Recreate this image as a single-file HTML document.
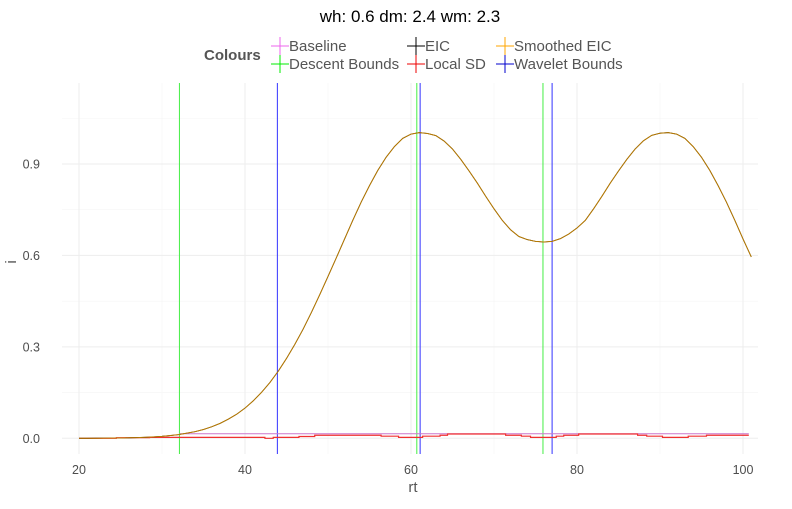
<!DOCTYPE html>
<html><head><meta charset="utf-8"><style>
body{margin:0;background:#fff}
svg{font-family:"Liberation Sans",sans-serif}
</style></head><body>
<svg id="chart" width="792" height="504" xmlns="http://www.w3.org/2000/svg">
<text x="410" y="22" font-size="17" text-anchor="middle" fill="#000">wh: 0.6 dm: 2.4 wm: 2.3</text>
<g id="legend" font-size="15" fill="#555">
<text x="204" y="60" font-weight="bold" font-size="15">Colours</text>
</g>
<g id="grid"></g>
<g id="vlines"></g>
<g id="series"></g>
<g id="axes" font-size="12.5" fill="#4d4d4d"></g>
<text x="413" y="492" font-size="15" text-anchor="middle" fill="#555">rt</text>
<text x="16" y="262" font-size="15" text-anchor="middle" fill="#555" transform="rotate(-90 16 262)">i</text>
</svg>
<script>
const rtValues = [];
for (let v = 20; v <= 101; v++) rtValues.push(v);
const smoothedValues = [0.000,0.000,0.0003,0.0005,0.0008,0.0011,0.0016,0.0024,0.0033,0.0047,0.0065,0.009,0.012,0.017,0.022,0.029,0.038,0.049,0.063,0.079,0.099,0.123,0.151,0.183,0.220,0.262,0.308,0.358,0.413,0.471,0.531,0.592,0.654,0.716,0.775,0.829,0.879,0.922,0.957,0.984,0.998,1.003,1.000,0.993,0.975,0.949,0.915,0.877,0.837,0.794,0.753,0.715,0.684,0.662,0.652,0.646,0.644,0.646,0.655,0.670,0.690,0.715,0.753,0.794,0.837,0.877,0.915,0.949,0.976,0.994,1.001,1.003,0.998,0.984,0.957,0.922,0.879,0.829,0.775,0.716,0.654,0.595];
const sdBreaks = [20,24.5,28.5,42.4,43.4,46.5,48.4,56.4,58.5,61.4,63.5,64.4,71.4,73.3,74.4,77.5,78.4,80.2,87.3,88.4,90.3,93.4,95.6,100.7];
const sdLevels = [0,0.002,0.003,0,0.003,0.006,0.01,0.007,0.003,0.007,0.01,0.014,0.01,0.007,0.003,0.007,0.01,0.014,0.01,0.007,0.003,0.007,0.01];
const baselineRange = [32.1, 100.7];
const baselineValue = 0.015;
const descentBounds = [32.1, 60.7, 75.9];
const waveletBounds = [43.9, 61.1, 77.0];
const xTicks = [20,40,60,80,100];
const xMinor = [30,50,70,90];
const yTicks = [0,0.3,0.6,0.9];
const yTickLabels = ["0.0","0.3","0.6","0.9"];
const yMinor = [0.15,0.45,0.75,1.05];

const NS="http://www.w3.org/2000/svg";
const X = v => 79 + (v-20)*8.3;
const Y = v => 438.3 - v*304.8;
const L=62, R=758, T=83, B=454;
function mk(tag, attrs, parent){const e=document.createElementNS(NS,tag);for(const k in attrs)e.setAttribute(k,attrs[k]);document.getElementById(parent).appendChild(e);return e;}

xMinor.forEach(v=>{const e=mk('line',{x1:X(v),x2:X(v),y1:T,y2:B,stroke:'#f5f5f5','stroke-width':0.6},'grid');

});
yMinor.forEach(v=>{const e=mk('line',{x1:L,x2:R,y1:Y(v),y2:Y(v),stroke:'#f5f5f5','stroke-width':0.6},'grid');

});
xTicks.forEach(v=>{const e=mk('line',{x1:X(v),x2:X(v),y1:T,y2:B,stroke:'#ededed','stroke-width':1},'grid');


const t=mk('text',{x:X(v),y:474,'text-anchor':'middle'},'axes');t.textContent=v;

});
yTicks.forEach((v,i)=>{const e=mk('line',{x1:L,x2:R,y1:Y(v),y2:Y(v),stroke:'#ededed','stroke-width':1},'grid');


const t=mk('text',{x:40,y:Y(v)+4.5,'text-anchor':'end'},'axes');t.textContent=yTickLabels[i];

});

descentBounds.forEach(v=>{const e=mk('line',{x1:X(v),x2:X(v),y1:T,y2:B,stroke:'#44ee44','stroke-width':1},'vlines');

});
waveletBounds.forEach(v=>{const e=mk('line',{x1:X(v),x2:X(v),y1:T,y2:B,stroke:'#3333ff','stroke-width':1},'vlines');

});

let bl=mk('line',{x1:X(baselineRange[0]),x2:X(baselineRange[1]),y1:Y(baselineValue),y2:Y(baselineValue),stroke:'#cc77cc','stroke-width':1},'series');



let sd='';
sdLevels.forEach((lv,i)=>{sd+=(i?'L':'M')+X(sdBreaks[i])+','+Y(lv)+'L'+X(sdBreaks[i+1])+','+Y(lv);});
let sdp=mk('path',{d:sd,fill:'none',stroke:'#f03030','stroke-width':1.2},'series');



const pts=rtValues.map((r,i)=>X(r)+','+Y(smoothedValues[i])).join(' ');
let eic=mk('polyline',{points:pts,fill:'none',stroke:'#000','stroke-width':0.8},'series');


let sm=mk('polyline',{points:pts,fill:'none',stroke:'#b87a00','stroke-width':1},'series');



const legendNames=['Baseline','Descent Bounds','EIC','Local SD','Smoothed EIC','Wavelet Bounds'];
const legendColors=['#ee66ee','#00ee00','#000000','#ee0000','#ffa500','#0000cc'];
const legX=[280,280,416,416,505,505], legY=[46,64,46,64,46,64];
legendNames.forEach((n,i)=>{
const g=mk('g',{},'legend');


const x=legX[i],y=legY[i];
[['line',{x1:x-9,x2:x+9,y1:y,y2:y}],['line',{x1:x,x2:x,y1:y-9,y2:y+9}]].forEach(a=>{const e=document.createElementNS(NS,'line');for(const k in a[1])e.setAttribute(k,a[1][k]);e.setAttribute('stroke',legendColors[i]);g.appendChild(e);});
const t=document.createElementNS(NS,'text');t.setAttribute('x',x+9);t.setAttribute('y',y+5);t.textContent=n;g.appendChild(t);
});
</script>
</body></html>
